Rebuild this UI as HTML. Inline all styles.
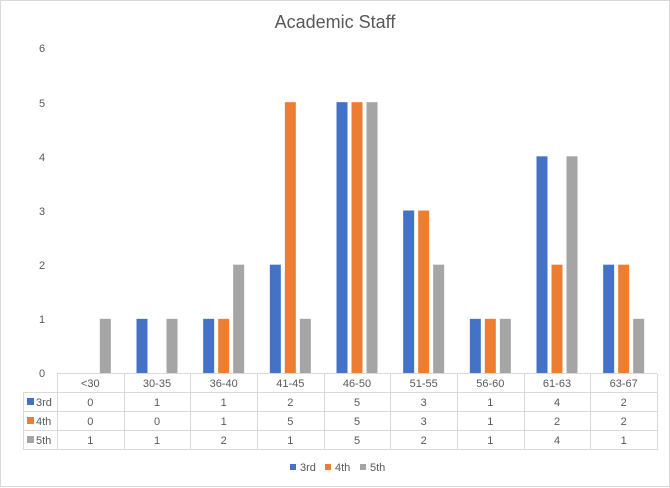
<!DOCTYPE html>
<html><head><style>body{margin:0;background:#fff}svg{display:block}</style></head><body>
<svg width="670" height="488" xmlns="http://www.w3.org/2000/svg" font-family="Liberation Sans, sans-serif">
<rect x="0.5" y="0.5" width="669" height="486" fill="#fff" stroke="#d9d9d9"/>
<text x="335" y="28" text-anchor="middle" font-size="18" fill="#595959">Academic Staff</text>
<g font-size="11" fill="#595959" text-anchor="middle">
<text x="42" y="52">6</text><text x="42" y="107">5</text><text x="42" y="161">4</text><text x="42" y="215">3</text><text x="42" y="269">2</text><text x="42" y="323">1</text><text x="42" y="377">0</text>
</g>
<g fill="#4472c4">
<rect x="136.5" y="318.83" width="11" height="54.17"/>
<rect x="203.17" y="318.83" width="11" height="54.17"/>
<rect x="269.83" y="264.67" width="11" height="108.33"/>
<rect x="336.5" y="102.17" width="11" height="270.83"/>
<rect x="403.17" y="210.5" width="11" height="162.5"/>
<rect x="469.83" y="318.83" width="11" height="54.17"/>
<rect x="536.5" y="156.33" width="11" height="216.67"/>
<rect x="603.17" y="264.67" width="11" height="108.33"/>
</g>
<g fill="#ed7d31">
<rect x="218.17" y="318.83" width="11" height="54.17"/>
<rect x="284.83" y="102.17" width="11" height="270.83"/>
<rect x="351.5" y="102.17" width="11" height="270.83"/>
<rect x="418.17" y="210.5" width="11" height="162.5"/>
<rect x="484.83" y="318.83" width="11" height="54.17"/>
<rect x="551.5" y="264.67" width="11" height="108.33"/>
<rect x="618.17" y="264.67" width="11" height="108.33"/>
</g>
<g fill="#a5a5a5">
<rect x="99.83" y="318.83" width="11" height="54.17"/>
<rect x="166.5" y="318.83" width="11" height="54.17"/>
<rect x="233.17" y="264.67" width="11" height="108.33"/>
<rect x="299.83" y="318.83" width="11" height="54.17"/>
<rect x="366.5" y="102.17" width="11" height="270.83"/>
<rect x="433.17" y="264.67" width="11" height="108.33"/>
<rect x="499.83" y="318.83" width="11" height="54.17"/>
<rect x="566.5" y="156.33" width="11" height="216.67"/>
<rect x="633.17" y="318.83" width="11" height="54.17"/>
</g>
<g stroke="#d9d9d9" stroke-width="1" fill="none">
<line x1="57" y1="373.5" x2="657" y2="373.5"/>
<line x1="23" y1="392.5" x2="657" y2="392.5"/>
<line x1="23" y1="411.5" x2="657" y2="411.5"/>
<line x1="23" y1="430.5" x2="657" y2="430.5"/>
<line x1="23" y1="449.5" x2="657" y2="449.5"/>
<line x1="23.5" y1="392" x2="23.5" y2="450"/>
<line x1="57.5" y1="374" x2="57.5" y2="450"/>
<line x1="124.5" y1="374" x2="124.5" y2="450"/>
<line x1="190.5" y1="374" x2="190.5" y2="450"/>
<line x1="257.5" y1="374" x2="257.5" y2="450"/>
<line x1="324.5" y1="374" x2="324.5" y2="450"/>
<line x1="390.5" y1="374" x2="390.5" y2="450"/>
<line x1="457.5" y1="374" x2="457.5" y2="450"/>
<line x1="524.5" y1="374" x2="524.5" y2="450"/>
<line x1="590.5" y1="374" x2="590.5" y2="450"/>
<line x1="657.5" y1="374" x2="657.5" y2="450"/>
</g>
<g font-size="11" fill="#595959" text-anchor="middle">
<text x="90.3" y="387">&lt;30</text><text x="157" y="387">30-35</text><text x="223.7" y="387">36-40</text><text x="290.3" y="387">41-45</text><text x="357" y="387">46-50</text><text x="423.7" y="387">51-55</text><text x="490.3" y="387">56-60</text><text x="557" y="387">61-63</text><text x="623.7" y="387">63-67</text>
<text x="90.3" y="406">0</text><text x="157" y="406">1</text><text x="223.7" y="406">1</text><text x="290.3" y="406">2</text><text x="357" y="406">5</text><text x="423.7" y="406">3</text><text x="490.3" y="406">1</text><text x="557" y="406">4</text><text x="623.7" y="406">2</text>
<text x="90.3" y="425">0</text><text x="157" y="425">0</text><text x="223.7" y="425">1</text><text x="290.3" y="425">5</text><text x="357" y="425">5</text><text x="423.7" y="425">3</text><text x="490.3" y="425">1</text><text x="557" y="425">2</text><text x="623.7" y="425">2</text>
<text x="90.3" y="444">1</text><text x="157" y="444">1</text><text x="223.7" y="444">2</text><text x="290.3" y="444">1</text><text x="357" y="444">5</text><text x="423.7" y="444">2</text><text x="490.3" y="444">1</text><text x="557" y="444">4</text><text x="623.7" y="444">1</text>
</g>
<rect x="27" y="398" width="7" height="7" fill="#4472c4"/><text x="36" y="406" font-size="11" fill="#595959">3rd</text>
<rect x="27" y="417" width="7" height="7" fill="#ed7d31"/><text x="36" y="425" font-size="11" fill="#595959">4th</text>
<rect x="27" y="436" width="7" height="7" fill="#a5a5a5"/><text x="36" y="444" font-size="11" fill="#595959">5th</text>
<rect x="290" y="464" width="6" height="6" fill="#4472c4"/><text x="300" y="471" font-size="11" fill="#595959">3rd</text>
<rect x="325" y="464" width="6" height="6" fill="#ed7d31"/><text x="335" y="471" font-size="11" fill="#595959">4th</text>
<rect x="360" y="464" width="6" height="6" fill="#a5a5a5"/><text x="370" y="471" font-size="11" fill="#595959">5th</text>
</svg>
</body></html>
